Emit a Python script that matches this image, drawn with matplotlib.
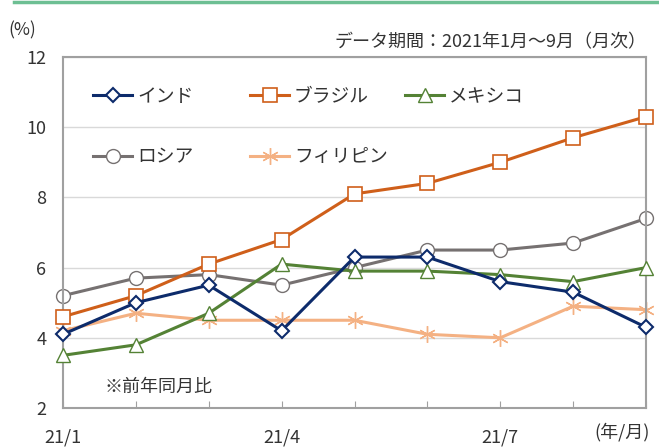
import matplotlib.pyplot as plt
from matplotlib.lines import Line2D

plt.rcParams['font.family'] = ['Noto Sans CJK JP', 'DejaVu Sans']

months = list(range(9))
xlabels = ['21/1', '', '', '21/4', '', '', '21/7', '', '']

india = [4.1, 5.0, 5.5, 4.2, 6.3, 6.3, 5.6, 5.3, 4.3]
brazil = [4.6, 5.2, 6.1, 6.8, 8.1, 8.4, 9.0, 9.7, 10.3]
mexico = [3.5, 3.8, 4.7, 6.1, 5.9, 5.9, 5.8, 5.6, 6.0]
russia = [5.2, 5.7, 5.8, 5.5, 6.0, 6.5, 6.5, 6.7, 7.4]
philippines = [4.2, 4.7, 4.5, 4.5, 4.5, 4.1, 4.0, 4.9, 4.8]

W, H = 659, 447
fig = plt.figure(figsize=(W / 100, H / 100), dpi=100)
ax = fig.add_axes([63 / W, 1 - 408 / H, 583 / W, 351 / H])

fig.add_artist(Line2D([14 / W, 1], [1 - 1.5 / H, 1 - 1.5 / H],
                      color='#6dbf93', lw=2.5))

l_in, = ax.plot(months, india, color='#0d2b6b', lw=2.2, marker='D', ms=7,
                mfc='white', mec='#0d2b6b', mew=1.5, label='インド', zorder=5, clip_on=False)
l_br, = ax.plot(months, brazil, color='#cf5f1a', lw=2.2, marker='s', ms=10,
                mfc='white', mec='#cf5f1a', mew=1.2, label='ブラジル', zorder=4, clip_on=False)
l_mx, = ax.plot(months, mexico, color='#548235', lw=2.2, marker='^', ms=10,
                mfc='white', mec='#548235', mew=1.0, label='メキシコ', zorder=3, clip_on=False)
l_ru, = ax.plot(months, russia, color='#767171', lw=2.2, marker='o', ms=10,
                mfc='white', mec='#767171', mew=1.0, label='ロシア', zorder=2, clip_on=False)
l_ph, = ax.plot(months, philippines, color='#f4b183', lw=2.2, marker=(6, 2, 0), ms=12,
                mec='#f4b183', mew=1.0, label='フィリピン', zorder=1, clip_on=False)

ax.set_xlim(0, 8)
ax.set_ylim(2, 12)
ax.set_yticks([2, 4, 6, 8, 10, 12])
ax.set_xticks(months)
ax.set_xticklabels(xlabels)
ax.tick_params(axis='y', length=0, labelsize=13, pad=12, colors='#333333')
ax.tick_params(axis='x', direction='in', length=5, color='#a0a0a0',
               labelsize=13, pad=15, labelcolor='#333333')
ax.grid(axis='y', color='#d9d9d9', lw=1)
ax.set_axisbelow(True)
for s in ax.spines.values():
    s.set_color('#a0a0a0')
    s.set_linewidth(1.5)

# legend: three fixed columns like the original
columns = [([l_in, l_ru], 93), ([l_br, l_ph], 250), ([l_mx], 405)]
for hs, xpx in columns:
    leg = fig.legend(hs, [h.get_label() for h in hs], loc='upper left',
                     bbox_to_anchor=(xpx / W, 1 - 86 / H), frameon=False,
                     fontsize=13.5, handlelength=2.1, labelspacing=2.1,
                     handletextpad=0.25, borderpad=0, borderaxespad=0)
    for t in leg.get_texts():
        t.set_color('#333333')

fig.text(8 / W, 1 - 30 / H, '(%)', fontsize=12.5, color='#333333', va='center')
fig.text(646 / W, 1 - 42 / H, 'データ期間：2021年1月～9月（月次）', fontsize=13,
         color='#333333', ha='right', va='center')
ax.text(0.57, 2.6, '※前年同月比', fontsize=13, color='#333333', va='center')
fig.text(650 / W, 1 - 432 / H, '(年/月)', fontsize=13, color='#333333',
         ha='right', va='center')

fig.savefig('out.png', dpi=100)
